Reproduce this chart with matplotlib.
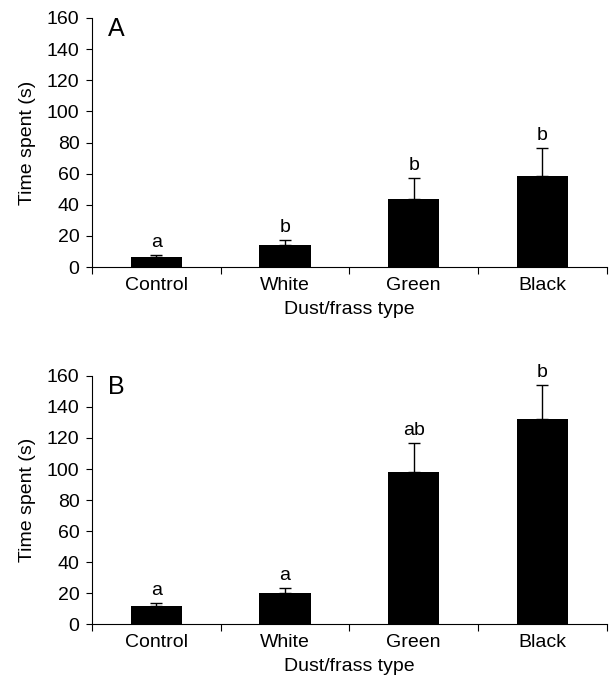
import matplotlib.pyplot as plt
import numpy as np

plt.rcParams['font.family'] = ['Liberation Sans', 'DejaVu Sans']

categories = ['Control', 'White', 'Green', 'Black']

# panel A
means_a = [6.5, 14, 43.5, 58.5]
errs_a = [1.5, 3.5, 14, 18]
letters_a = ['a', 'b', 'b', 'b']

# panel B
means_b = [11.5, 20, 98, 132.5]
errs_b = [2, 3, 19, 22]
letters_b = ['a', 'a', 'ab', 'b']

fig = plt.figure(figsize=(6.14, 6.84), dpi=100)
ax_a = fig.add_axes([0.150, 0.6096, 0.838, 0.3641])
ax_b = fig.add_axes([0.150, 0.0877, 0.838, 0.3626])

fs = 14


def draw_panel(ax, means, errs, letters, tag):
    x = np.arange(len(categories))
    ax.bar(x, means, width=0.4, color='black', zorder=2)
    ax.errorbar(x, means, yerr=[np.zeros(len(errs)), errs], fmt='none',
                ecolor='black', elinewidth=1, capsize=4, capthick=1, zorder=1)
    for xi, m, e, lab in zip(x, means, errs, letters):
        ax.text(xi, m + e + 2.5, lab, ha='center', va='bottom', fontsize=fs)
    ax.set_xlim(-0.5, len(categories) - 0.5)
    ax.set_ylim(0, 160)
    ax.set_yticks(np.arange(0, 161, 20))
    ax.set_xticks(np.arange(-0.5, len(categories), 1.0))
    ax.set_xticklabels([])
    ax.set_xticks(x, minor=True)
    ax.set_xticklabels(categories, minor=True)
    ax.tick_params(axis='x', which='minor', length=0, pad=7, labelsize=fs)
    ax.tick_params(axis='x', which='major', length=5, direction='out')
    ax.tick_params(axis='y', length=4, direction='out', labelsize=fs, pad=5)
    for side in ['top', 'right']:
        ax.spines[side].set_visible(False)
    ax.set_ylabel('Time spent (s)', fontsize=fs, labelpad=8)
    ax.set_xlabel('Dust/frass type', fontsize=fs, labelpad=5)
    ax.text(0.03, 1.005, tag, transform=ax.transAxes, fontsize=18,
            ha='left', va='top')


draw_panel(ax_a, means_a, errs_a, letters_a, 'A')
draw_panel(ax_b, means_b, errs_b, letters_b, 'B')

fig.savefig('out.png', dpi=100)
